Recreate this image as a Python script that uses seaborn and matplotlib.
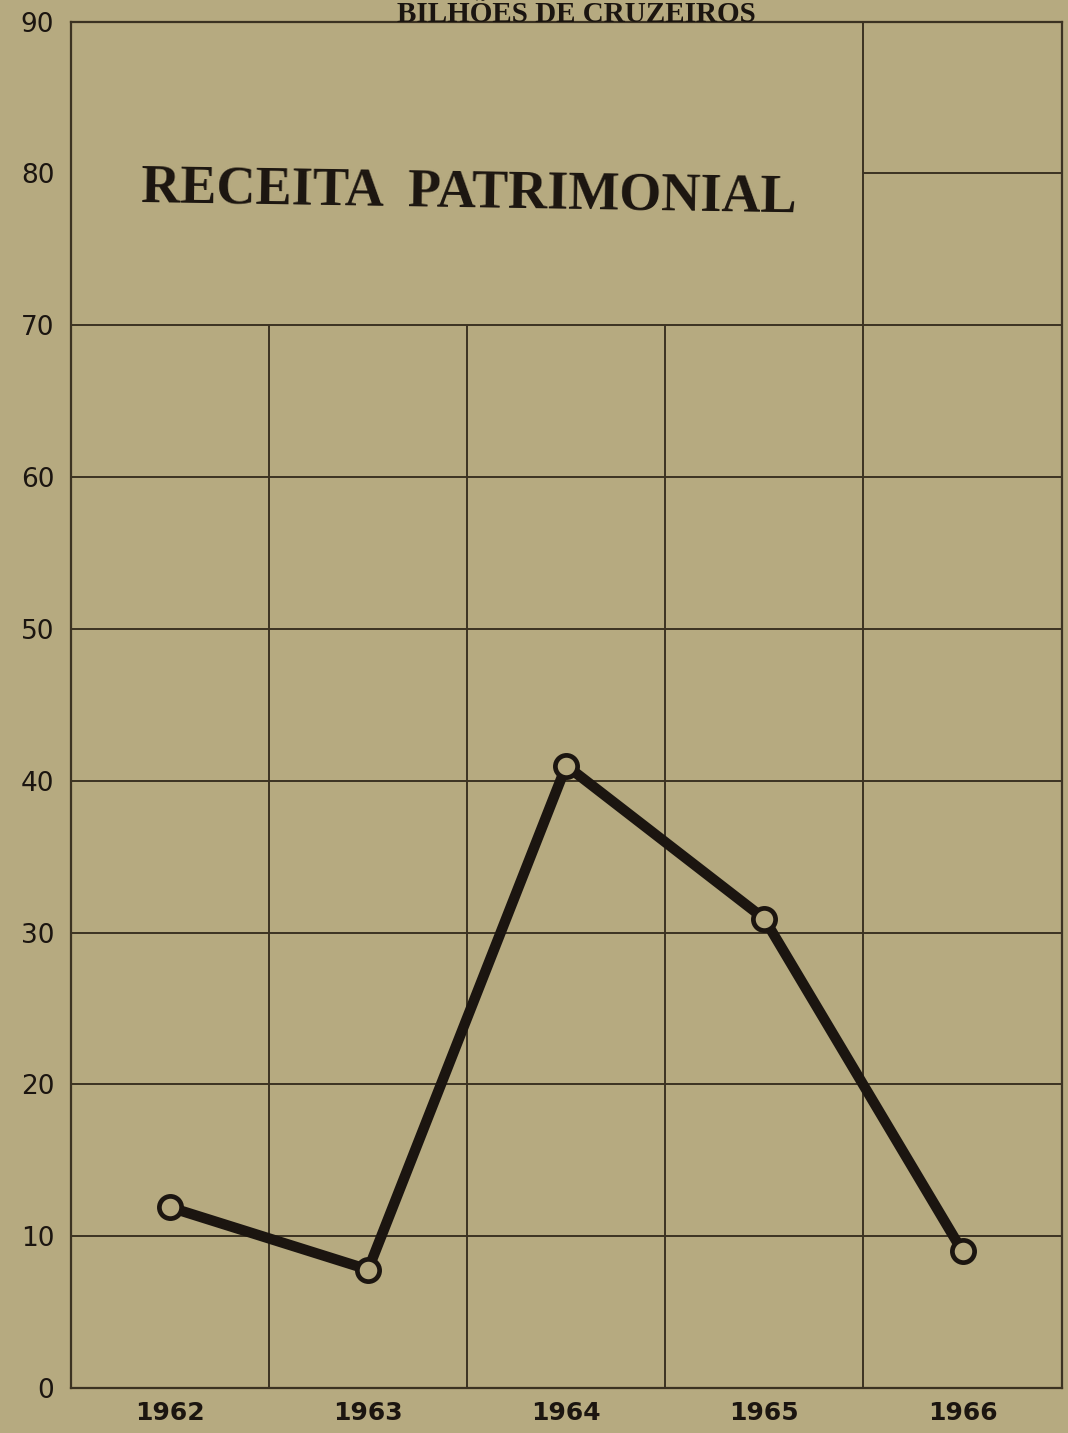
"""Receita patrimonial 1962-1966 (bilhões de cruzeiros), recriação do gráfico digitalizado."""

import matplotlib
matplotlib.use("Agg")
import matplotlib.pyplot as plt
import numpy as np
import pandas as pd
import seaborn as sns

# ---------------------------------------------------------------------------
# Dados
# ---------------------------------------------------------------------------
anos = [1962, 1963, 1964, 1965, 1966]
receita = [11.9, 7.8, 41.0, 30.9, 9.0]
y_ticks = [0, 10, 20, 30, 40, 50, 60, 70, 80, 90]

titulo = "RECEITA  PATRIMONIAL"
unidade = "BILHÕES DE CRUZEIROS"

# ---------------------------------------------------------------------------
# Paleta
# ---------------------------------------------------------------------------
PAPEL = "#b6aa80"
TINTA = "#1b1510"
GRADE = "#3b3222"

sns.set_style("white")
plt.rcParams["font.family"] = ["DejaVu Sans"]

df = pd.DataFrame({"ano": anos, "receita": receita})

fig = plt.figure(figsize=(10.68, 14.33), dpi=100, facecolor=PAPEL)
ax = fig.add_axes([0.0665, 0.0314, 0.9275, 0.9535])
ax.set_facecolor(PAPEL)

x_min, x_max = anos[0] - 0.5, anos[-1] + 0.5
ax.set_xlim(x_min, x_max)
ax.set_ylim(y_ticks[0], y_ticks[-1])

# grade: linhas horizontais até 70 em toda a largura, 80 só na última coluna
limites = [a + 0.5 for a in anos[:-1]]
for v in y_ticks[1:-1]:
    if v <= 70:
        ax.hlines(v, x_min, x_max, color=GRADE, linewidth=1.4, zorder=1)
    else:
        ax.hlines(v, limites[-1], x_max, color=GRADE, linewidth=1.4, zorder=1)
for i, b in enumerate(limites):
    topo = y_ticks[-1] if i == len(limites) - 1 else 70
    ax.vlines(b, 0, topo, color=GRADE, linewidth=1.4, zorder=1)

sns.lineplot(
    data=df, x="ano", y="receita", ax=ax,
    color=TINTA, linewidth=7.5, marker="o", markersize=16,
    markerfacecolor=PAPEL, markeredgecolor=TINTA, markeredgewidth=3.4,
    zorder=3,
)

for s in ax.spines.values():
    s.set_visible(True)
    s.set_color(GRADE)
    s.set_linewidth(1.6)

ax.set_xticks(anos)
ax.set_xticklabels([str(a) for a in anos], fontsize=18, fontweight="bold", color=TINTA)
ax.set_yticks(y_ticks)
ax.set_yticklabels([str(v) for v in y_ticks], fontsize=19, fontweight="medium", color=TINTA)
ax.tick_params(axis="both", length=0)
ax.tick_params(axis="x", pad=9)
ax.tick_params(axis="y", pad=12)
ax.set_xlabel("")
ax.set_ylabel("")

fig.text(0.540, 0.9995, unidade, ha="center", va="top",
         fontsize=21, fontweight="bold", color=TINTA,
         family=["Liberation Serif", "DejaVu Serif"])
ax.text(0.07, 0.874, titulo, transform=ax.transAxes, ha="left", va="center",
        fontsize=39, fontweight="bold", color=TINTA, rotation=-0.9,
        family=["Liberation Serif", "DejaVu Serif"])

fig.savefig("out.png", dpi=100, facecolor=PAPEL)
